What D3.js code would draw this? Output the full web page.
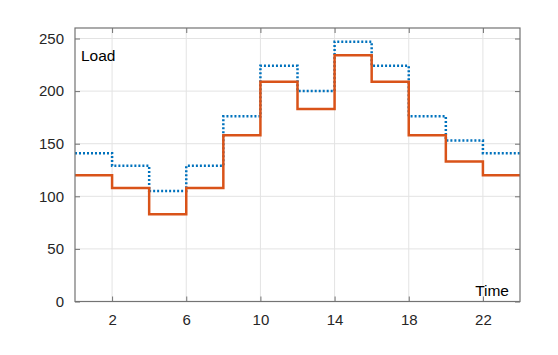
<!DOCTYPE html>
<html>
<head>
<meta charset="utf-8">
<script src="https://cdn.jsdelivr.net/npm/d3@7"></script>
<style>
  body { margin: 0; background: #fff; }
  text { font-family: Arial, "Liberation Sans", sans-serif; }
</style>
</head>
<body>
<svg width="558" height="355"></svg>
<script>
// Hour at which each step starts
var hours = [0, 2, 4, 6, 8, 10, 12, 14, 16, 18, 20, 22];
// Forecast (dotted) and actual (solid) load
var loadForecast = [141, 129, 105, 129, 176, 224, 200, 247, 224, 176, 153, 141];
var loadActual = [120, 108, 83, 108, 158, 209, 183, 234, 209, 158, 133, 120];
var xTicks = [2, 6, 10, 14, 18, 22];
var yTicks = [0, 50, 100, 150, 200, 250];

var svg = d3.select('svg');
var boxLeft = 75, boxRight = 520, boxTop = 28, boxBottom = 301.5;

var x = d3.scaleLinear().domain([0, 24]).range([boxLeft, boxRight]);
var y = d3.scaleLinear().domain([0, 260]).range([boxBottom, boxTop]);

// Grid
svg.append('g').selectAll('line').data(xTicks).enter().append('line')
    .attr('x1', function(d) { return x(d); }).attr('x2', function(d) { return x(d); })
    .attr('y1', boxTop).attr('y2', boxBottom)
    .attr('stroke', '#e3e3e3').attr('stroke-width', 1);
svg.append('g').selectAll('line').data(yTicks).enter().append('line')
    .attr('x1', boxLeft).attr('x2', boxRight)
    .attr('y1', function(d) { return y(d); }).attr('y2', function(d) { return y(d); })
    .attr('stroke', '#e3e3e3').attr('stroke-width', 1);

// Stairs: repeat last value to close the final step at 24
function steps(vals) {
    var pts = hours.map(function(h, i) { return [h, vals[i]]; });
    pts.push([24, vals[vals.length - 1]]);
    return pts;
}
var line = d3.line()
    .x(function(d) { return x(d[0]); })
    .y(function(d) { return y(d[1]); })
    .curve(d3.curveStepAfter);

svg.append('path').datum(steps(loadForecast))
    .attr('d', line).attr('fill', 'none')
    .attr('stroke', '#0072BD').attr('stroke-width', 2.5)
    .attr('stroke-dasharray', '2,2');
svg.append('path').datum(steps(loadActual))
    .attr('d', line).attr('fill', 'none')
    .attr('stroke', '#D95319').attr('stroke-width', 2.5);

// Axes with inward ticks on all four sides
var axisColor = '#737373';
function styleAxis(g) {
    g.select('.domain').remove();
    g.selectAll('.tick line').attr('stroke', axisColor);
    g.selectAll('.tick text').attr('fill', '#262626').style('font-size', '15px')
        .style('font-family', 'Arial, "Liberation Sans", sans-serif');
}
svg.append('g').attr('transform', 'translate(0,' + boxBottom + ')')
    .call(d3.axisBottom(x).tickValues(xTicks).tickSizeInner(-5).tickPadding(13))
    .call(styleAxis);
svg.append('g').attr('transform', 'translate(0,' + boxTop + ')')
    .call(d3.axisTop(x).tickValues(xTicks).tickSizeInner(-5).tickFormat(''))
    .call(styleAxis);
svg.append('g').attr('transform', 'translate(' + boxLeft + ',0)')
    .call(d3.axisLeft(y).tickValues(yTicks).tickSizeInner(-5).tickPadding(11))
    .call(styleAxis);
svg.append('g').attr('transform', 'translate(' + boxRight + ',0)')
    .call(d3.axisRight(y).tickValues(yTicks).tickSizeInner(-5).tickFormat(''))
    .call(styleAxis);

svg.append('rect')
    .attr('x', boxLeft).attr('y', boxTop)
    .attr('width', boxRight - boxLeft).attr('height', boxBottom - boxTop)
    .attr('fill', 'none').attr('stroke', axisColor).attr('stroke-width', 1.2);

// Axis labels placed inside the box
svg.append('text').attr('x', 81).attr('y', 61)
    .style('font-size', '15.5px').attr('fill', '#000').text('Load');
svg.append('text').attr('x', 509).attr('y', 296).attr('text-anchor', 'end')
    .style('font-size', '15.5px').attr('fill', '#000').text('Time');
</script>
</body>
</html>
